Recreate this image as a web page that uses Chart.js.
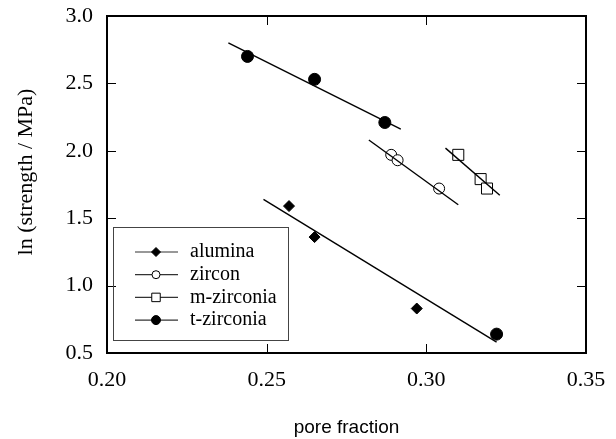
<!DOCTYPE html>
<html>
<head>
<meta charset="utf-8">
<script src="https://cdn.jsdelivr.net/npm/chart.js@4.4.0/dist/chart.umd.min.js"></script>
<style>
  html, body { margin: 0; padding: 0; background: #fff; }
  canvas { display: block; }
</style>
</head>
<body>
<canvas id="strengthChart" width="616" height="439"></canvas>
<script>
// measured points: pore fraction vs ln(strength / MPa)
const aluminaX = [0.257, 0.265, 0.297, 0.322];
const aluminaY = [1.59, 1.36, 0.83, 0.64];
const zirconX = [0.289, 0.291, 0.304];
const zirconY = [1.97, 1.93, 1.72];
const mZirconiaX = [0.310, 0.317, 0.319];
const mZirconiaY = [1.97, 1.79, 1.72];
const tZirconiaX = [0.244, 0.265, 0.287, 0.322];
const tZirconiaY = [2.70, 2.53, 2.21, 0.64];

// end points of the fitted lines
const aluminaFitX = [0.249, 0.322];
const aluminaFitY = [1.64, 0.58];
const zirconFitX = [0.282, 0.310];
const zirconFitY = [2.08, 1.60];
const mZirconiaFitX = [0.306, 0.323];
const mZirconiaFitY = [2.02, 1.67];
const tZirconiaFitX = [0.238, 0.292];
const tZirconiaFitY = [2.80, 2.16];

const xTicks = [0.20, 0.25, 0.30, 0.35];
const yTicks = [0.5, 1.0, 1.5, 2.0, 2.5, 3.0];

const seriesNames = ['alumina', 'zircon', 'm-zirconia', 't-zirconia'];
const yTitle = 'ln (strength / MPa)';

const toPoints = (xs, ys) => xs.map((x, i) => ({ x: x, y: ys[i] }));

const serif = '"Liberation Serif", "DejaVu Serif", serif';

function fitLine(xs, ys) {
  return {
    type: 'line',
    data: toPoints(xs, ys),
    borderColor: '#000',
    borderWidth: 1.4,
    pointRadius: 0,
    fill: false
  };
}

const markers = [
  { style: 'rectRot', radius: 5.5, fill: '#000', legendRadius: 4.5 },
  { style: 'circle', radius: 5.5, fill: '#fff', legendRadius: 4 },
  { style: 'rect', radius: 7.8, fill: '#fff', legendRadius: 6 },
  { style: 'circle', radius: 6, fill: '#000', legendRadius: 4.5 }
];

function pointSet(xs, ys, i) {
  return {
    type: 'scatter',
    label: seriesNames[i],
    data: toPoints(xs, ys),
    pointStyle: markers[i].style,
    pointRadius: markers[i].radius,
    pointBackgroundColor: markers[i].fill,
    pointBorderColor: '#000',
    pointBorderWidth: 1,
    showLine: false
  };
}

// frame, inward ticks on all four sides, y title and the boxed legend
const framePlugin = {
  id: 'framePlugin',
  afterDraw(chart) {
    const ctx = chart.ctx;
    const a = chart.chartArea;
    const xs = chart.scales.x;
    const ys = chart.scales.y;
    ctx.save();
    ctx.strokeStyle = '#000';
    ctx.lineWidth = 2;
    ctx.strokeRect(a.left, a.top, a.right - a.left, a.bottom - a.top);

    ctx.lineWidth = 1;
    const len = 9;
    ctx.beginPath();
    xTicks.slice(1, -1).forEach(v => {
      const px = Math.round(xs.getPixelForValue(v)) + 0.5;
      ctx.moveTo(px, a.bottom); ctx.lineTo(px, a.bottom - len);
      ctx.moveTo(px, a.top); ctx.lineTo(px, a.top + len);
    });
    yTicks.slice(1, -1).forEach(v => {
      const py = Math.round(ys.getPixelForValue(v)) + 0.5;
      ctx.moveTo(a.left, py); ctx.lineTo(a.left + len, py);
      ctx.moveTo(a.right, py); ctx.lineTo(a.right - len, py);
    });
    ctx.stroke();

    // rotated y axis title, sitting a little above the axis middle
    ctx.save();
    ctx.translate(26, 172);
    ctx.rotate(-Math.PI / 2);
    ctx.font = '22px ' + serif;
    ctx.fillStyle = '#000';
    ctx.textAlign = 'center';
    ctx.textBaseline = 'middle';
    ctx.fillText(yTitle, 0, 0);
    ctx.restore();

    // legend box in the lower left of the plot
    const box = { left: 113.5, top: 227.5, width: 175, height: 113 };
    ctx.strokeStyle = '#444';
    ctx.lineWidth = 1;
    ctx.strokeRect(box.left, box.top, box.width, box.height);

    ctx.font = '20px ' + serif;
    ctx.textBaseline = 'middle';
    ctx.textAlign = 'left';
    seriesNames.forEach((name, i) => {
      const y = 252 + i * 22.7;
      ctx.strokeStyle = '#333';
      ctx.lineWidth = 1.2;
      ctx.beginPath();
      ctx.moveTo(135, y); ctx.lineTo(178, y);
      ctx.stroke();
      const m = markers[i];
      ctx.fillStyle = m.fill;
      ctx.strokeStyle = '#000';
      ctx.lineWidth = 1;
      Chart.helpers.drawPoint(ctx, { pointStyle: m.style, radius: m.legendRadius, rotation: 0, borderWidth: 1 }, 156, y);
      ctx.fillStyle = '#000';
      ctx.fillText(name, 190, y);
    });
    ctx.restore();
  }
};

new Chart(document.getElementById('strengthChart').getContext('2d'), {
  data: {
    datasets: [
      fitLine(aluminaFitX, aluminaFitY),
      fitLine(zirconFitX, zirconFitY),
      fitLine(mZirconiaFitX, mZirconiaFitY),
      fitLine(tZirconiaFitX, tZirconiaFitY),
      pointSet(aluminaX, aluminaY, 0),
      pointSet(zirconX, zirconY, 1),
      pointSet(mZirconiaX, mZirconiaY, 2),
      pointSet(tZirconiaX, tZirconiaY, 3)
    ]
  },
  options: {
    responsive: false,
    animation: false,
    devicePixelRatio: 1,
    layout: { padding: { top: 16, right: 30, left: 0, bottom: 0 } },
    plugins: {
      legend: { display: false },
      tooltip: { enabled: false }
    },
    scales: {
      x: {
        type: 'linear',
        min: 0.20,
        max: 0.35,
        afterBuildTicks: s => { s.ticks = xTicks.map(v => ({ value: v })); },
        afterFit: s => { s.height = 86; },
        grid: { display: false, drawTicks: false },
        border: { display: false },
        ticks: {
          color: '#000',
          padding: 5,
          maxRotation: 0,
          font: { family: serif, size: 22, lineHeight: 2.0 },
          callback: v => Number(v).toFixed(2)
        },
        title: {
          display: true,
          text: 'pore fraction',
          color: '#000',
          font: { family: '"Liberation Sans", Arial, sans-serif', size: 19 },
          padding: { top: 0, bottom: 0 }
        }
      },
      y: {
        type: 'linear',
        min: 0.5,
        max: 3.0,
        afterBuildTicks: s => { s.ticks = yTicks.map(v => ({ value: v })); },
        afterFit: s => { s.width = 107; },
        grid: { display: false, drawTicks: false },
        border: { display: false },
        ticks: {
          color: '#000',
          padding: 14,
          font: { family: serif, size: 22, lineHeight: 0.1 },
          callback: v => Number(v).toFixed(1)
        }
      }
    }
  },
  plugins: [framePlugin]
});
</script>
</body>
</html>
